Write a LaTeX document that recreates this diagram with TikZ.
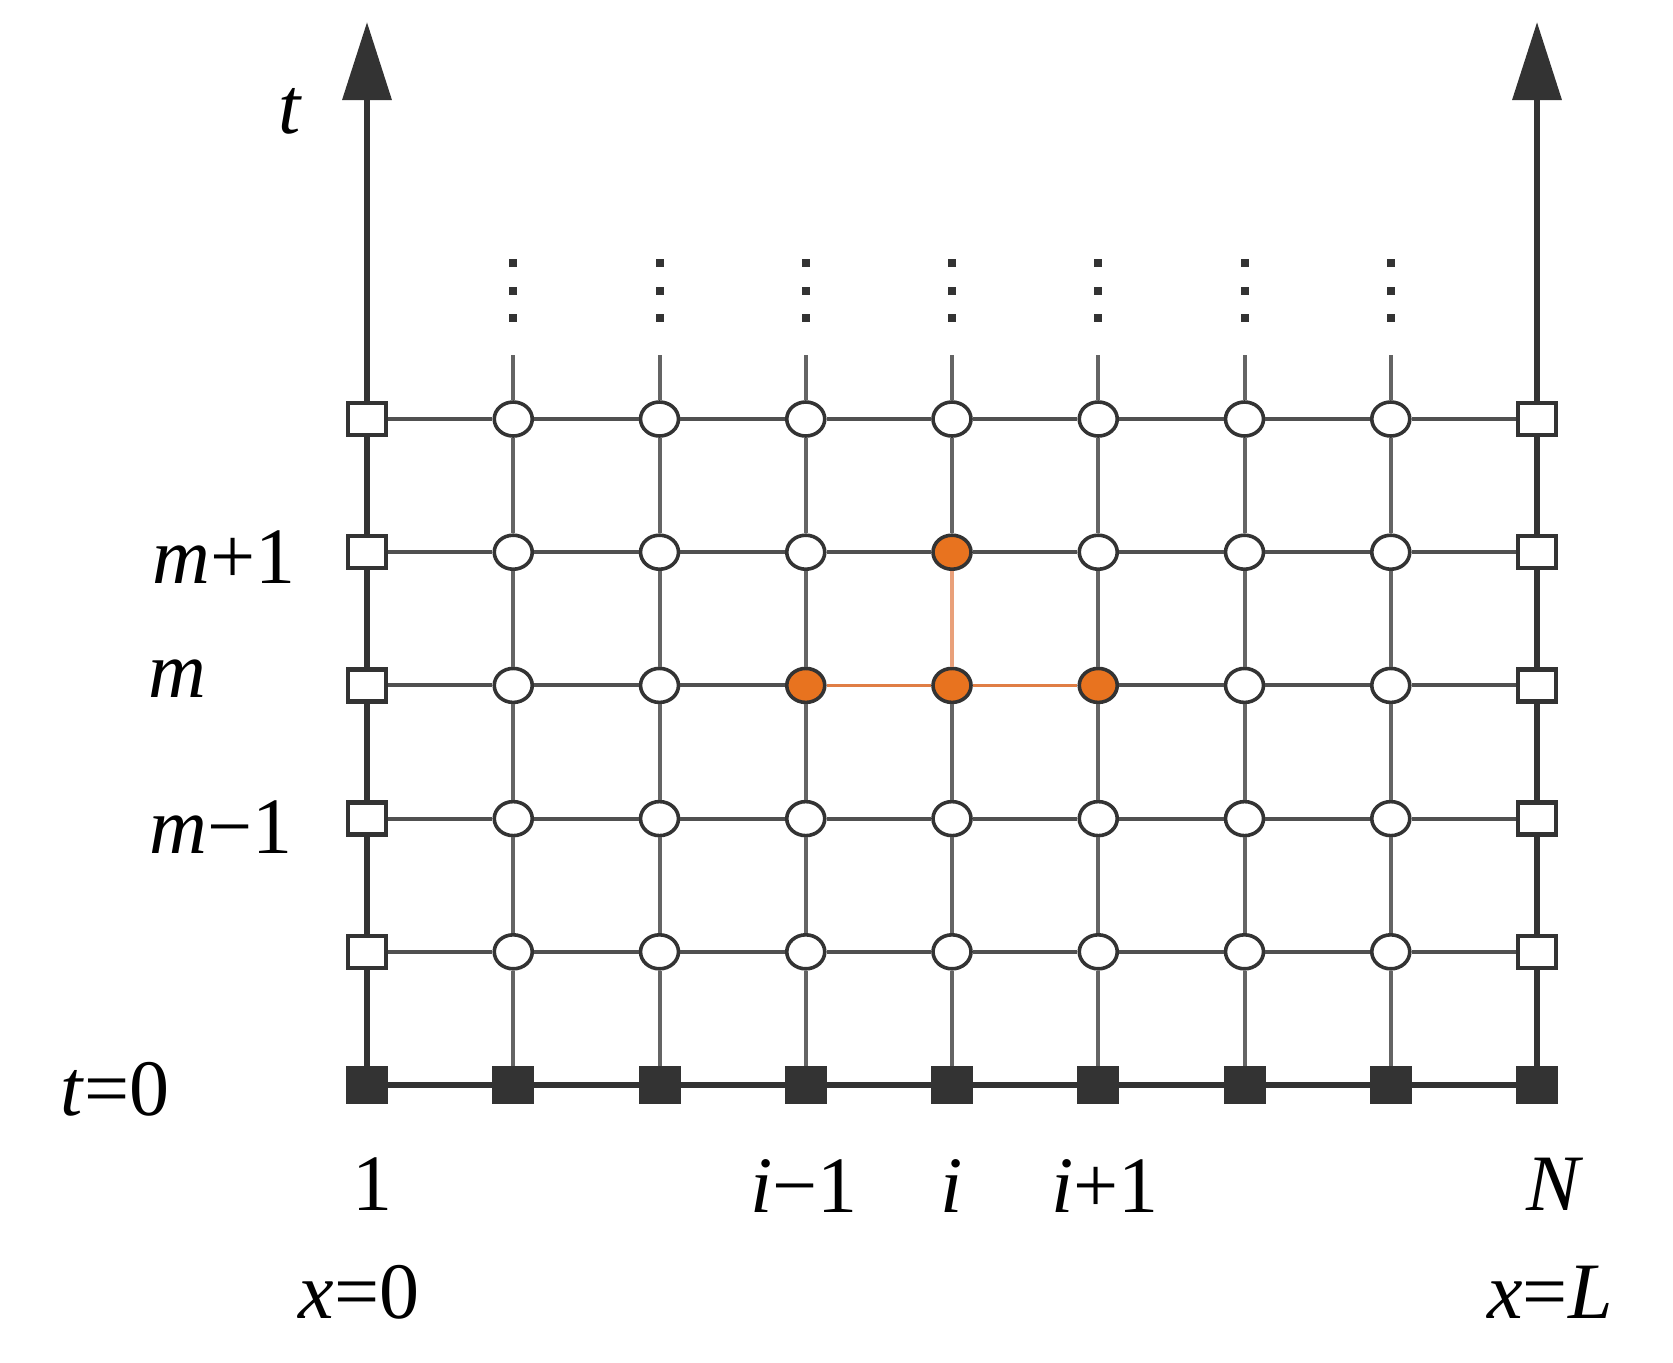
\documentclass[tikz,border=0pt]{standalone}
\usepackage{fontspec}
\setmainfont{Liberation Serif}
\usetikzlibrary{arrows.meta,shapes.geometric}
\definecolor{ink}{HTML}{333333}
\definecolor{gridc}{HTML}{505050}
\definecolor{vgrid}{HTML}{646464}
\definecolor{hot}{HTML}{E8731F}
\definecolor{hotline}{HTML}{E07E45}
\definecolor{hotlinev}{HTML}{E9A07A}
\tikzset{
  bnd/.style={rectangle, draw=ink, line width=2.2pt, fill=white, minimum width=19pt, minimum height=16pt, inner sep=0pt},
  init/.style={rectangle, draw=ink, fill=ink, line width=1pt, minimum width=20pt, minimum height=18pt, inner sep=0pt},
  pt/.style={ellipse, draw=ink, line width=1.8pt, fill=white, minimum width=19pt, minimum height=17pt, inner sep=0pt},
  hotpt/.style={pt, fill=hot},
  hline/.style={draw=gridc, line width=2pt},
  vline/.style={draw=vgrid, line width=2pt},
  hotedge/.style={draw=hotline, line width=1.6pt},
  hotedgev/.style={draw=hotlinev, line width=1.6pt},
  axis/.style={draw=ink, line width=3.4pt},
  baseline/.style={draw=ink, line width=3.2pt},
  lbl/.style={font=\fontsize{40}{48}\selectfont, inner sep=0pt, anchor=base},
  dotmark/.style={rectangle, fill=ink, minimum size=4pt, inner sep=0pt}
}
\begin{document}
\begin{tikzpicture}[x=0.5pt,y=-0.5pt]
\useasboundingbox (0,0) rectangle (1673,1362);
% nodes
\foreach \c in {1,...,9}{
  \foreach \r in {0,...,5}{
    \pgfmathsetmacro\xx{367+146.25*(\c-1)}
    \pgfmathsetmacro\yy{1085-133.2*\r}
    \def\sty{pt}
    \ifnum\r=0 \def\sty{init}\else
      \ifnum\c=1 \def\sty{bnd}\fi
      \ifnum\c=9 \def\sty{bnd}\fi
      \ifnum\r=3 \ifnum\c>3 \ifnum\c<7 \def\sty{hotpt}\fi\fi\fi
      \ifnum\r=4 \ifnum\c=5 \def\sty{hotpt}\fi\fi
    \fi
    \node[\sty] (n-\c-\r) at (\xx,\yy) {};
  }
}
% horizontal lines
\foreach \r in {1,...,5}{
  \foreach \c [evaluate=\c as \d using int(\c+1)] in {1,...,8}{
    \def\est{hline}
    \ifnum\r=3 \ifnum\c>3 \ifnum\c<6 \def\est{hotedge}\fi\fi\fi
    \draw[\est] (n-\c-\r) -- (n-\d-\r);
  }
}
\foreach \c [evaluate=\c as \d using int(\c+1)] in {1,...,8}{
  \draw[baseline] (n-\c-0) -- (n-\d-0);
}
% vertical lines
\foreach \c in {2,...,8}{
  \foreach \r [evaluate=\r as \s using int(\r+1)] in {0,...,4}{
    \def\est{vline}
    \ifnum\c=5 \ifnum\r=3 \def\est{hotedgev}\fi\fi
    \draw[\est] (n-\c-\r) -- (n-\c-\s);
  }
  \pgfmathsetmacro\xx{367+146.25*(\c-1)}
  \coordinate (top-\c) at (\xx,355);
  \draw[vline] (n-\c-5) -- (top-\c);
  \node[dotmark] (da-\c) at (\xx,263) {};
  \node[dotmark] (db-\c) at (\xx,291) {};
  \node[dotmark] (dc-\c) at (\xx,318) {};
}
\foreach \c in {1,9}{
  \foreach \r [evaluate=\r as \s using int(\r+1)] in {0,...,4}{
    \draw[axis] (n-\c-\r) -- (n-\c-\s);
  }
}
\coordinate (tipL) at (367,22);
\coordinate (tipR) at (1537,22);
\draw[axis, -{Triangle[width=24pt,length=39pt]}] (n-1-5) -- (tipL);
\draw[axis, -{Triangle[width=24pt,length=39pt]}] (n-9-5) -- (tipR);
% labels
\node[lbl] (lt) at (290,133) {\textit{t}};
\node[lbl] (lmp) at (224,583) {\textit{m}+1};
\node[lbl] (lm) at (177,697) {\textit{m}};
\node[lbl] (lmm) at (221,853) {\textit{m}−1};
\node[lbl] (lt0) at (115,1115) {\textit{t}=0};
\node[lbl] (l1) at (372,1210) {1};
\node[lbl] (lim) at (804,1212) {\textit{i}−1};
\node[lbl] (li) at (952,1212) {\textit{i}};
\node[lbl] (lip) at (1105,1212) {\textit{i}+1};
\node[lbl] (lN) at (1555,1210) {\textit{N}};
\node[lbl] (lx0) at (359,1318) {\textit{x}=0};
\node[lbl] (lxL) at (1550,1318) {\textit{x}=\textit{L}};
\end{tikzpicture}
\end{document}
